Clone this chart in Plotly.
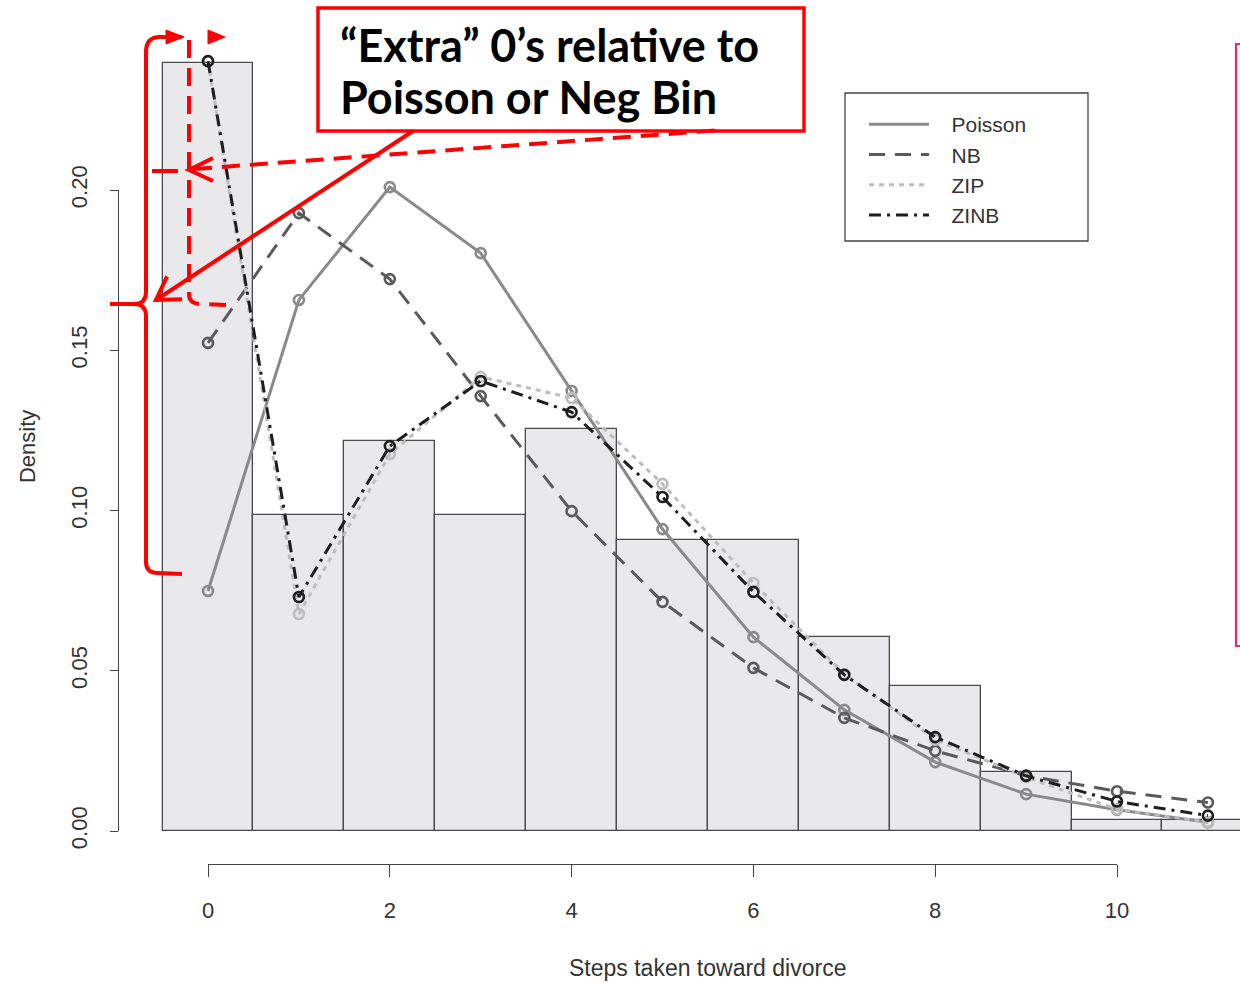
import math
import plotly.graph_objects as go

W, H = 1240, 983

# ---------------- data ----------------
steps = list(range(12))
observed = [0.2396, 0.0986, 0.1217, 0.0986, 0.1254, 0.0908, 0.0908, 0.0605, 0.0452, 0.0184, 0.0034, 0.0034]
poisson = [0.0749, 0.1657, 0.2009, 0.1803, 0.1373, 0.0942, 0.0605, 0.0378, 0.0215, 0.0115, 0.0066, 0.0027]
nb = [0.1523, 0.1928, 0.1722, 0.1357, 0.0998, 0.0715, 0.0509, 0.0353, 0.0250, 0.0173, 0.0124, 0.0089]
zip_ = [0.2402, 0.0677, 0.1176, 0.1417, 0.1351, 0.1083, 0.0774, 0.0490, 0.0285, 0.0168, 0.0068, 0.0028]
zinb = [0.2402, 0.0730, 0.1201, 0.1404, 0.1307, 0.1042, 0.0746, 0.0487, 0.0293, 0.0172, 0.0092, 0.0048]

x_ticks = [0, 2, 4, 6, 8, 10]
y_ticks = [0.00, 0.05, 0.10, 0.15, 0.20]
y_tick_text = ["0.00", "0.05", "0.10", "0.15", "0.20"]
series_names = ["Poisson", "NB", "ZIP", "ZINB"]
x_label = "Steps taken toward divorce"
y_label = "Density"
annot_line1 = "“Extra” 0’s relative to"
annot_line2 = "Poisson or Neg Bin"

# ---------------- layout geometry (pixels) ----------------
X0_PX, X10_PX = 208, 1117      # x = 0 and x = 10
Y0_PX, Y20_PX = 831, 190       # y = 0 and y = 0.20
YAXIS_PX = 118
XAXIS_PX = 864
ppx = (X10_PX - X0_PX) / 10.0
ppy = (Y0_PX - Y20_PX) / 0.20
xrange_main = [-X0_PX / ppx, (W - X0_PX) / ppx]
yrange_main = [-(H - Y0_PX) / ppy, Y0_PX / ppy]

AX = "#444444"
TXT = "#333333"
FONT = "Liberation Sans, Arial, sans-serif"

styles = {
    "Poisson": dict(color="#8a8a8a", dash="solid", width=3),
    "NB": dict(color="#5a5a5a", dash="16px,10px", width=3),
    "ZIP": dict(color="#bdbdbd", dash="5px,5px", width=3),
    "ZINB": dict(color="#1e1e1e", dash="12px,6px,3px,6px", width=3),
}
values = {"Poisson": poisson, "NB": nb, "ZIP": zip_, "ZINB": zinb}

fig = go.Figure()

fig.add_trace(go.Bar(
    x=steps, y=observed, width=1.0,
    marker=dict(color="#e9e9ec", line=dict(color="#4a4a4a", width=1.3)),
    showlegend=False, hoverinfo="skip",
))

for name in series_names:
    st = styles[name]
    fig.add_trace(go.Scatter(
        x=steps, y=values[name], mode="lines+markers",
        line=dict(color=st["color"], dash=st["dash"], width=st["width"]),
        marker=dict(symbol="circle-open", size=10, color=st["color"],
                    line=dict(width=2.6, color=st["color"])),
        showlegend=False,
    ))

for name in series_names:
    st = styles[name]
    fig.add_trace(go.Scatter(
        x=[None], y=[None], mode="lines", name="&nbsp;&nbsp;&nbsp;" + name,
        line=dict(color=st["color"], dash=st["dash"], width=st["width"]),
        showlegend=True,
    ))

# dummy trace for the R-style axes
fig.add_trace(go.Scatter(x=[None], y=[None], xaxis="x2", yaxis="y2",
                         showlegend=False, hoverinfo="skip"))

fig.update_layout(
    width=W, height=H,
    margin=dict(l=0, r=0, t=0, b=0, pad=0, autoexpand=False),
    paper_bgcolor="white", plot_bgcolor="rgba(0,0,0,0)",
    bargap=0,
    font=dict(family=FONT, color=TXT, size=22),
    xaxis=dict(range=xrange_main, visible=False, domain=[0, 1], automargin=False),
    yaxis=dict(range=yrange_main, visible=False, domain=[0, 1], automargin=False),
    xaxis2=dict(
        domain=[X0_PX / W, X10_PX / W], range=[0, 10],
        anchor="free", position=1 - XAXIS_PX / H, automargin=False,
        showline=True, linecolor=AX, linewidth=1.3,
        ticks="outside", ticklen=12, tickwidth=1.3, tickcolor=AX,
        tickvals=x_ticks, ticktext=[str(v) for v in x_ticks],
        showgrid=False, zeroline=False,
        tickfont=dict(size=22, color=TXT),
        ticklabelstandoff=14,
    ),
    yaxis2=dict(
        domain=[1 - Y0_PX / H, 1 - Y20_PX / H], range=[0, 0.20],
        anchor="free", position=YAXIS_PX / W, automargin=False,
        showline=True, linecolor=AX, linewidth=1.3,
        ticks="outside", ticklen=8, tickwidth=1.3, tickcolor=AX,
        tickvals=y_ticks, ticktext=y_tick_text, tickangle=-90,
        showgrid=False, zeroline=False,
        tickfont=dict(size=22, color=TXT),
        ticklabelstandoff=14,
    ),
    legend=dict(
        x=864 / W, y=1 - 104 / H, xanchor="left", yanchor="top",
        borderwidth=0, bgcolor="rgba(0,0,0,0)",
        font=dict(size=21, color=TXT, family=FONT),
        itemwidth=60, tracegroupgap=0,
    ),
)

# axis titles, centred on the plotting region like R's title()
fig.add_annotation(xref="x", yref="paper", x=(steps[0] + steps[-1]) / 2, y=1 - 968 / H,
                   text=x_label, showarrow=False, xanchor="center", yanchor="middle",
                   font=dict(size=23, color=TXT, family=FONT))
fig.add_annotation(xref="paper", yref="y", x=27 / W, y=max(observed) / 2,
                   text=y_label, showarrow=False, textangle=-90,
                   xanchor="center", yanchor="middle",
                   font=dict(size=22, color=TXT, family=FONT))

# ---------------- red call-out annotation ----------------
def P(px, py):
    return f"{px / W:.5f},{1 - py / H:.5f}"

RED = "#ff0000"
shapes = []

def path_shape(d, width=4, dash="solid", fill=None):
    s = dict(type="path", xref="paper", yref="paper", path=d, layer="above",
             line=dict(color=RED, width=width, dash=dash))
    if fill:
        s["fillcolor"] = fill
    shapes.append(s)

# legend frame
shapes.append(dict(type="rect", xref="paper", yref="paper",
                   x0=845 / W, x1=1088 / W, y0=1 - 241 / H, y1=1 - 93 / H,
                   line=dict(color=AX, width=1.3), layer="below"))

# text box
shapes.append(dict(type="rect", xref="paper", yref="paper",
                   x0=318 / W, x1=804 / W, y0=1 - 131 / H, y1=1 - 8 / H,
                   line=dict(color=RED, width=3.5), fillcolor="white", layer="above"))

# solid curly brace
path_shape(f"M {P(182,37)} L {P(160,37)} Q {P(146,37)} {P(146,52)} L {P(146,292)} "
           f"Q {P(146,304)} {P(134,304)} L {P(110,304)} M {P(134,304)} Q {P(146,304)} {P(146,316)} "
           f"L {P(146,562)} Q {P(146,573)} {P(158,573)} L {P(182,574)}", width=4)
path_shape(f"M {P(166,30)} L {P(184,37)} L {P(166,44)} Z", width=1, fill=RED)

# dashed bracket
path_shape(f"M {P(189,40)} L {P(189,294)} Q {P(189,304)} {P(201,304)} L {P(226,305)}",
           width=4, dash="18px,10px")
path_shape(f"M {P(208,30)} L {P(225,37)} L {P(208,44)} Z", width=1, fill=RED)

# dashed pointer to the 0 bar
path_shape(f"M {P(152,171)} L {P(178,171)}", width=4)
path_shape(f"M {P(194,169)} L {P(722,130)}", width=4, dash="18px,10px")
path_shape(f"M {P(213,158)} L {P(189,170)} L {P(213,181)}", width=4)

# solid arrow from the text box
tail = (413, 131)
tip = (156, 300)
path_shape(f"M {P(*tail)} L {P(*tip)}", width=4)
ang = math.atan2(tail[1] - tip[1], tail[0] - tip[0])
arm = 26
a1 = (tip[0] + arm * math.cos(ang + 0.55), tip[1] + arm * math.sin(ang + 0.55))
a2 = (tip[0] + arm * math.cos(ang - 0.55), tip[1] + arm * math.sin(ang - 0.55))
path_shape(f"M {P(*a1)} L {P(*tip)} L {P(*a2)}", width=4)

# pink frame at right edge
shapes.append(dict(type="rect", xref="paper", yref="paper",
                   x0=1236 / W, x1=1.02, y0=1 - 646 / H, y1=1 - 44 / H,
                   line=dict(color="#e8247f", width=2.2), layer="above"))

fig.update_layout(shapes=shapes)

for txt, cy in [(annot_line1, 45), (annot_line2, 97)]:
    fig.add_annotation(
        xref="paper", yref="paper", x=338 / W, y=1 - cy / H,
        xanchor="left", yanchor="middle", align="left", showarrow=False,
        text=f"<b>{txt}</b>",
        font=dict(family="Lato, Open Sans, sans-serif", size=45, color="black"),
    )

fig.write_html("out.html", config={"displayModeBar": False},
               post_script="document.body.style.margin='0';document.body.style.overflow='hidden';")
